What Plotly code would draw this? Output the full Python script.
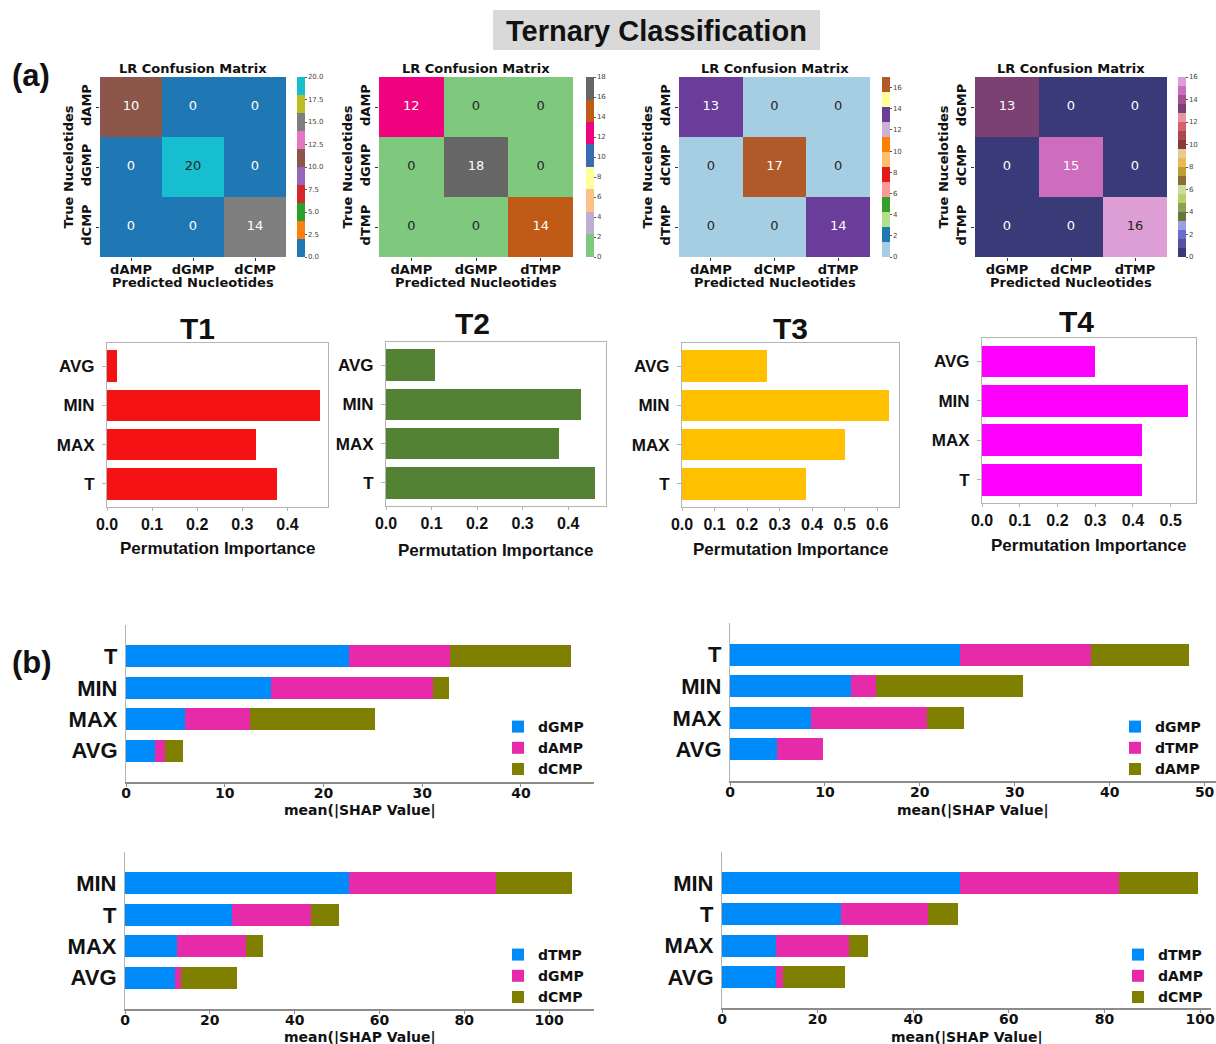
import plotly.graph_objects as go

W, H = 1216, 1044

# ---------------- data ----------------
# (a) LR confusion matrices: rows = true class, columns = predicted class
cm1_classes = ["dAMP", "dGMP", "dCMP"]
cm1_counts = [[10, 0, 0], [0, 20, 0], [0, 0, 14]]
cm2_classes = ["dAMP", "dGMP", "dTMP"]
cm2_counts = [[12, 0, 0], [0, 18, 0], [0, 0, 14]]
cm3_classes = ["dAMP", "dCMP", "dTMP"]
cm3_counts = [[13, 0, 0], [0, 17, 0], [0, 0, 14]]
cm4_classes = ["dGMP", "dCMP", "dTMP"]
cm4_counts = [[13, 0, 0], [0, 15, 0], [0, 0, 16]]
cm_vmax = [20, 18, 17, 16]
cm_dtick = [2.5, 2, 2, 2]

# (a) permutation importance per feature (bottom to top)
pi_features = ["T", "MAX", "MIN", "AVG"]
pi_t1 = [0.376, 0.330, 0.473, 0.022]
pi_t2 = [0.459, 0.380, 0.429, 0.107]
pi_t3 = [0.380, 0.500, 0.635, 0.260]
pi_t4 = [0.425, 0.424, 0.545, 0.300]
pi_titles = ["T1", "T2", "T3", "T4"]

# (b) mean(|SHAP value|) per class, features listed bottom to top
shap1_features = ["AVG", "MAX", "MIN", "T"]
shap1_classes = ["dGMP", "dAMP", "dCMP"]
shap1_c1 = [2.9, 6.0, 14.7, 22.6]
shap1_c2 = [1.0, 6.6, 16.4, 10.2]
shap1_c3 = [1.9, 12.6, 1.6, 12.3]

shap2_features = ["AVG", "MAX", "MIN", "T"]
shap2_classes = ["dGMP", "dTMP", "dAMP"]
shap2_c1 = [5.0, 8.5, 12.75, 24.2]
shap2_c2 = [4.8, 12.3, 2.65, 13.8]
shap2_c3 = [0.0, 3.8, 15.5, 10.4]

shap3_features = ["AVG", "MAX", "T", "MIN"]
shap3_classes = ["dTMP", "dGMP", "dCMP"]
shap3_c1 = [11.8, 12.2, 25.3, 52.8]
shap3_c2 = [1.5, 16.4, 18.5, 34.8]
shap3_c3 = [13.1, 4.0, 6.7, 17.7]

shap4_features = ["AVG", "MAX", "T", "MIN"]
shap4_classes = ["dTMP", "dAMP", "dCMP"]
shap4_c1 = [11.4, 11.2, 24.9, 49.7]
shap4_c2 = [1.4, 15.4, 18.1, 33.4]
shap4_c3 = [12.9, 4.0, 6.3, 16.5]

# ---------------- styling ----------------
TAB10 = ["#1f77b4", "#ff7f0e", "#2ca02c", "#d62728", "#9467bd",
         "#8c564b", "#e377c2", "#7f7f7f", "#bcbd22", "#17becf"]
ACCENT = ["#7fc97f", "#beaed4", "#fdc086", "#ffff99",
          "#386cb0", "#f0027f", "#bf5b17", "#666666"]
PAIRED = ["#a6cee3", "#1f78b4", "#b2df8a", "#33a02c", "#fb9a99", "#e31a1c",
          "#fdbf6f", "#ff7f00", "#cab2d6", "#6a3d9a", "#ffff99", "#b15928"]
TAB20B = ["#393b79", "#5254a3", "#6b6ecf", "#9c9ede", "#637939", "#8ca252",
          "#b5cf6b", "#cedb9c", "#8c6d31", "#bd9e39", "#e7ba52", "#e7cb94",
          "#843c39", "#ad494a", "#d6616b", "#e7969c", "#7b4173", "#a55194",
          "#ce6dbd", "#de9ed6"]
PI_COLORS = ["#f51212", "#548235", "#ffc000", "#ff00ff"]
SHAP_COLORS = ["#008bfb", "#e62aaa", "#808000"]

SANS = "DejaVu Sans"
ARIAL = "Liberation Sans Narrow, Liberation Sans, Arial"


def dom_x(x0, x1):
    return [max(0.0, x0 / W), min(1.0, x1 / W)]


def dom_y(y0, y1):
    return [max(0.0, 1 - y1 / H), min(1.0, 1 - y0 / H)]


def discrete_scale(colors):
    n = len(colors)
    scale = []
    for i, c in enumerate(colors):
        scale.append([i / n, c])
        scale.append([(i + 1) / n, c])
    return scale


def bin_color(v, colors, vmax):
    n = len(colors)
    return colors[min(int(v / vmax * n), n - 1)]


def text_color(hexcol):
    rgb = [int(hexcol[i:i + 2], 16) / 255 for i in (1, 3, 5)]
    lin = [c / 12.92 if c <= 0.03928 else ((c + 0.055) / 1.055) ** 2.4 for c in rgb]
    lum = 0.2126 * lin[0] + 0.7152 * lin[1] + 0.0722 * lin[2]
    return "#262626" if lum > 0.408 else "#ffffff"


def label(text, x, y, size, family, color="#111"):
    return dict(text=text, x=x / W, y=1 - y / H, xref="paper", yref="paper",
                xanchor="center", yanchor="middle", showarrow=False,
                font=dict(size=size, family=family, weight="bold", color=color))


fig = go.Figure()
layout = {}
annotations = []

# ---------------- confusion matrices ----------------
cm_sets = [
    (cm1_classes, cm1_counts, TAB10),
    (cm2_classes, cm2_counts, ACCENT),
    (cm3_classes, cm3_counts, PAIRED),
    (cm4_classes, cm4_counts, TAB20B),
]
cm_boxes = [(100, 286), (379, 573), (679, 870), (975, 1167)]
cbar_left = [297, 586, 882, 1178]
CM_TOP, CM_BOT = 77, 257

for k, (classes, counts, pal) in enumerate(cm_sets):
    n = k + 1
    xa, ya = f"x{n}", f"y{n}"
    vmax = cm_vmax[k]
    fig.add_trace(go.Heatmap(
        z=counts, x=classes, y=classes, xaxis=xa, yaxis=ya,
        zmin=0, zmax=vmax, colorscale=discrete_scale(pal),
        hoverinfo="skip",
        colorbar=dict(
            x=cbar_left[k] / W, xanchor="left",
            y=1 - (CM_TOP + CM_BOT) / 2 / H, yanchor="middle",
            len=CM_BOT - CM_TOP, lenmode="pixels",
            thickness=8, thicknessmode="pixels", xpad=0, ypad=0,
            outlinewidth=0, ticks="outside", ticklen=2, tickwidth=0.6,
            tickcolor="#555", tick0=0, dtick=cm_dtick[k],
            tickformat=".1f" if k == 0 else "d",
            tickfont=dict(size=7, color="#444", family=SANS),
        ),
    ))
    xs, ys, ts, cs = [], [], [], []
    for i, row in enumerate(counts):
        for j, v in enumerate(row):
            xs.append(classes[j])
            ys.append(classes[i])
            ts.append(str(v))
            cs.append(text_color(bin_color(v, pal, vmax)))
    fig.add_trace(go.Scatter(
        x=xs, y=ys, mode="text", text=ts, xaxis=xa, yaxis=ya,
        textfont=dict(color=cs, size=13, family=SANS),
        hoverinfo="skip", showlegend=False,
    ))
    x0, x1 = cm_boxes[k]
    layout[f"xaxis{n}"] = dict(
        domain=dom_x(x0, x1), anchor=ya, range=[-0.5, 2.5], automargin=False,
        categoryorder="array", categoryarray=classes,
        showgrid=False, zeroline=False, showline=False,
        ticks="outside", ticklen=3, tickcolor="#333", ticklabelstandoff=-3,
        tickfont=dict(size=13, family=SANS, weight="bold", color="#111"),
    )
    layout[f"yaxis{n}"] = dict(
        domain=dom_y(CM_TOP, CM_BOT), anchor=xa, range=[2.5, -0.5], automargin=False,
        categoryorder="array", categoryarray=classes,
        showgrid=False, zeroline=False, showline=False,
        ticks="outside", ticklen=3, tickcolor="#333", tickangle=-90,
        tickfont=dict(size=13, family=SANS, weight="bold", color="#111"),
        title=dict(text="True Nucelotides", standoff=2,
                   font=dict(size=13, family=SANS, weight="bold", color="#111")),
    )
    annotations.append(label("LR Confusion Matrix", (x0 + x1) / 2, 68, 13, SANS))
    annotations.append(label("Predicted Nucleotides", (x0 + x1) / 2, 283, 13, SANS))

# ---------------- permutation importance ----------------
pi_values = [pi_t1, pi_t2, pi_t3, pi_t4]
pi_boxes = [(107, 328, 343, 507), (386, 606, 342, 506),
            (682, 899, 343, 507), (982, 1196, 338, 503)]
pi_xmax = [0.49, 0.483, 0.667, 0.567]
pi_title_pos = [(197, 328), (472, 323), (790, 328), (1076, 322)]
pi_xlabel_y = [548, 550, 549, 545]

for k, vals in enumerate(pi_values):
    n = k + 5
    xa, ya = f"x{n}", f"y{n}"
    fig.add_trace(go.Bar(
        x=vals, y=pi_features, orientation="h", width=0.8,
        marker=dict(color=PI_COLORS[k], line=dict(width=0)),
        xaxis=xa, yaxis=ya, showlegend=False, hoverinfo="skip",
    ))
    x0, x1, y0, y1 = pi_boxes[k]
    layout[f"xaxis{n}"] = dict(
        domain=dom_x(x0, x1), anchor=ya, range=[0, pi_xmax[k]], automargin=False,
        tick0=0, dtick=0.1, tickformat=".1f",
        showgrid=False, zeroline=False, showline=True, mirror=True,
        linecolor="#b4b4b4", linewidth=1,
        ticks="outside", ticklen=3, tickcolor="#b4b4b4",
        tickfont=dict(size=16, family=ARIAL, weight="bold", color="#111"),
    )
    layout[f"yaxis{n}"] = dict(
        domain=dom_y(y0, y1), anchor=xa, range=[-0.59, 3.59], automargin=False,
        categoryorder="array", categoryarray=pi_features,
        showgrid=False, zeroline=False, showline=True, mirror=True,
        linecolor="#b4b4b4", linewidth=1,
        ticks="outside", ticklen=4, tickcolor="#b4b4b4", ticklabelstandoff=4,
        tickfont=dict(size=17, family=ARIAL, weight="bold", color="#111"),
    )
    tx, ty = pi_title_pos[k]
    annotations.append(label(pi_titles[k], tx, ty, 30, ARIAL))
    annotations.append(label("Permutation Importance", (x0 + x1) / 2,
                             pi_xlabel_y[k], 17, ARIAL))

# ---------------- SHAP bars ----------------
shap_sets = [
    (shap1_features, shap1_classes, [shap1_c1, shap1_c2, shap1_c3]),
    (shap2_features, shap2_classes, [shap2_c1, shap2_c2, shap2_c3]),
    (shap3_features, shap3_classes, [shap3_c1, shap3_c2, shap3_c3]),
    (shap4_features, shap4_classes, [shap4_c1, shap4_c2, shap4_c3]),
]
shap_boxes = [(126, 594, 625, 782), (730, 1216, 623, 781),
              (125, 594, 852, 1009), (722, 1211, 852, 1008)]
shap_xmax = [47.4, 51.2, 110.6, 102.3]
shap_dtick = [10, 10, 20, 20]
shap_xlabel_y = [810, 810, 1037, 1037]
legend_pos = [(498, 711), (1115, 711), (498, 939), (1118, 939)]
legend_names = ["legend", "legend2", "legend3", "legend4"]

for k, (feats, classes, series) in enumerate(shap_sets):
    n = k + 9
    xa, ya = f"x{n}", f"y{n}"
    for cls, vals, col in zip(classes, series, SHAP_COLORS):
        fig.add_trace(go.Bar(
            x=vals, y=feats, orientation="h", width=0.7, name=cls,
            marker=dict(color=col, line=dict(width=0)),
            xaxis=xa, yaxis=ya, legend=legend_names[k], hoverinfo="skip",
        ))
    x0, x1, y0, y1 = shap_boxes[k]
    layout[f"xaxis{n}"] = dict(
        domain=dom_x(x0, x1), anchor=ya, range=[0, shap_xmax[k]], automargin=False,
        tick0=0, dtick=shap_dtick[k], ticklabeloverflow="allow",
        showgrid=False, zeroline=False, showline=True,
        linecolor="#8c8c8c", linewidth=1.5,
        ticks="outside", ticklen=3, tickcolor="#8c8c8c", ticklabelstandoff=-6,
        tickfont=dict(size=14, family=SANS, weight="bold", color="#111"),
    )
    layout[f"yaxis{n}"] = dict(
        domain=dom_y(y0, y1), anchor=xa, range=[-1, 4], automargin=False,
        categoryorder="array", categoryarray=feats,
        showgrid=False, zeroline=False, showline=True,
        linecolor="#b4b4b4", linewidth=1.2,
        ticks="", ticklabelstandoff=3,
        tickfont=dict(size=22, family=ARIAL, weight="bold", color="#111"),
    )
    annotations.append(label("mean(|SHAP Value|", (x0 + x1) / 2,
                             shap_xlabel_y[k], 14, SANS))
    lx, ly = legend_pos[k]
    layout[legend_names[k]] = dict(
        x=lx / W, y=1 - ly / H, xanchor="left", yanchor="top",
        xref="paper", yref="paper",
        bgcolor="rgba(0,0,0,0)", traceorder="normal",
        tracegroupgap=0, itemwidth=30,
        font=dict(size=14, family=SANS, weight="bold", color="#111"),
    )

# ---------------- headings ----------------
annotations += [
    label("Ternary Classification", 656, 31, 29, "Liberation Sans, Arial"),
    label("(a)", 31, 75, 31, "Liberation Sans, Arial"),
    label("(b)", 32, 662, 31, "Liberation Sans, Arial"),
]

fig.update_layout(
    width=W, height=H, margin=dict(l=0, r=0, t=0, b=0, autoexpand=False),
    paper_bgcolor="white", plot_bgcolor="white",
    font=dict(family=SANS, color="#111"),
    barmode="stack",
    annotations=annotations,
    shapes=[dict(type="rect", xref="paper", yref="paper",
                 x0=493 / W, x1=820 / W, y0=1 - 50 / H, y1=1 - 10 / H,
                 fillcolor="#d9d9d9", line=dict(width=0), layer="below")],
    **layout,
)

fig.write_html("out.html")
